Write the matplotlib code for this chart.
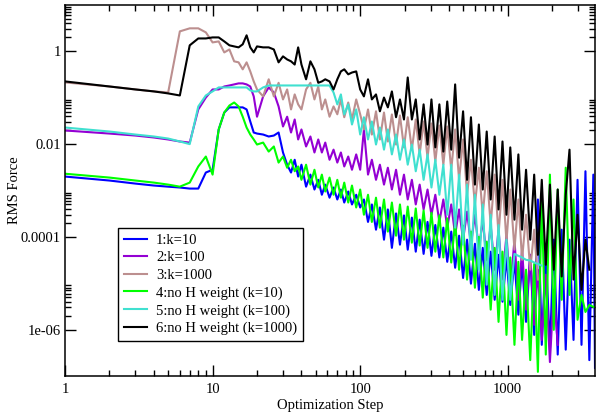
import numpy as np
import matplotlib
matplotlib.use('Agg')
import matplotlib.pyplot as plt
from matplotlib.ticker import FixedLocator, FixedFormatter, NullFormatter

nan = np.nan

steps = [1, 2, 3, 4, 5, 6, 7, 8, 9, 10, 11, 12, 13, 14, 15, 16, 17, 18, 19, 20,
         22, 24, 26, 28, 30, 32, 34, 36, 38, 40,
         43, 46, 49, 52, 55, 58, 62, 66, 70, 74, 78, 83, 88, 94, 100,
         106, 113, 120, 128, 136, 145, 154, 164, 175, 186, 198, 210, 224, 238, 253, 269, 286, 304, 323, 344,
         366, 389, 414, 440, 468, 498, 530, 563, 599, 637, 677, 720, 766, 815, 866, 921, 980,
         1040, 1110, 1180, 1250, 1330, 1420, 1510, 1600, 1700, 1810, 1930, 2050, 2180, 2320, 2470, 2620,
         2790, 2970, 3160, 3360, 3570, 3800, 3900]

k10 = [2e-3, 1.64e-3, 1.41e-3, 1.28e-3, 1.21e-3, 1.16e-3, 1.1e-3, 1.1e-3, 2.44e-3, 2.8e-3,
       0.0207, 0.048, 0.062, 0.062, 0.062, 0.062, 0.056, 0.0308, 0.0178, 0.0169,
       0.0161, 0.0146, 0.0153, 0.0178, 0.0066, 0.0036, 0.00244, 0.0046, 0.002, 0.0036,
       1.21e-3, 2.2e-3, 1.05e-3, 1.7e-3, 8.1e-4, 1.34e-3, 7e-4, 1.16e-3, 6.4e-4, 1.05e-3,
       5.5e-4, 9.5e-4, 5e-4, 8.1e-4, 4.3e-4,
       6.4e-4, 2.1e-4, 5e-4, 1.43e-4, 4.3e-4, 8.7e-5, 3.9e-4, 5.8e-5, 3.2e-4, 6.8e-5,
       2.9e-4, 5.3e-5, 2.6e-4, 4.8e-5, 2.35e-4, 4.3e-5, 2.1e-4, 3.9e-5, 1.8e-4, 3.6e-5,
       1.58e-4, 2.9e-5, 1.3e-4, 2.16e-5, 1.06e-4, 1.3e-5, 8.7e-5, 9.8e-6, 7.1e-5, 7.2e-6,
       5.8e-5, 5.6e-6, 4.8e-5, 4.4e-6, 4.1e-5, 4e-6, 3.6e-5,
       3.4e-6, 3.2e-5, 2.1e-6, 2.9e-5, 1.47e-6, 4.1e-5, 7.7e-7, 6.4e-4, 4.7e-7, 5.3e-5,
       3.7e-7, 8.7e-5, 2.9e-7, 1.43e-4, 3.7e-7, 8.7e-5, 6e-7, 1.7e-3, 4.7e-7, 2.6e-3,
       2.2e-7, 2.2e-3, 1.5e-7]

k100 = [0.0197, 0.0169, 0.0153, 0.0139, 0.0126, 0.0114, 0.0108, 0.056, 0.101, 0.151,
        0.151, 0.175, 0.184, 0.194, 0.204, 0.204, 0.194, 0.175, 0.107, 0.039,
        0.107, 0.167, 0.13, 0.065, 0.024, 0.039, 0.0178, 0.034, 0.0126, 0.0207,
        0.0089, 0.0146, 0.0066, 0.0126, 0.0066, 0.0108, 0.0046, 0.0076, 0.004, 0.0066,
        0.0033, 0.0054, 0.0028, 0.006, 0.0028,
        0.0207, 0.0022, 0.0046, 0.0017, 0.0036, 0.00134, 0.0031, 0.00105, 0.0028, 8.1e-4,
        0.0022, 6.4e-4, 0.0017, 5e-4, 0.00134, 3.9e-4, 0.00105, 3e-4, 8.1e-4, 2.1e-4,
        6.4e-4, 1.58e-4, 5e-4, 1.1e-4, 3.9e-4, 8.7e-5, 3.5e-4, 6.8e-5, 3e-4, 5.3e-5,
        2.35e-4, 3.2e-5, 1.8e-4, 1.96e-5, 1.43e-4, 1.2e-5, 1.1e-4,
        7.2e-6, 8.7e-5, 4.4e-6, 5.3e-5, 2.7e-6, 4.1e-5, 1.27e-6, 1.96e-5, 6e-7, 1.53e-5,
        2e-7, 7.2e-6, 4.7e-7, nan, nan, nan, nan, nan, nan, nan,
        nan, nan, nan]

k1000 = [0.214, 0.175, 0.151, 0.137, 0.13, 2.7, 3.14, 3.14, 2.57, 1.56,
         1.64, 0.95, 1.1, 0.61, 0.58, 0.41, 0.58, 0.37, 0.225, 0.151,
         0.107, 0.25, 0.107, 0.21, 0.092, 0.151, 0.056, 0.118, 0.072, 0.056,
         0.151, 0.21, 0.092, 0.175, 0.056, 0.092, 0.039, 0.065, 0.044, 0.092,
         0.038, 0.079, 0.034, 0.092, 0.044,
         0.0207, 0.056, 0.0161, 0.051, 0.0126, 0.048, 0.0114, 0.0436, 0.0098, 0.0415,
         0.0085, 0.038, 0.0076, 0.034, 0.006, 0.0308, 0.0051, 0.0279, 0.0042, 0.0252,
         0.0036, 0.024, 0.0028, 0.0207, 0.0017, 0.0126, 8.1e-4, 0.0046, 5e-4, 0.0031,
         3e-4, 0.0026, 1.8e-4, 0.0022, 1.1e-4, 0.0017, 7.9e-5,
         1.05e-3, 5.3e-5, 6.4e-4, 3.2e-5, 3e-4, 1.96e-5, 1.43e-4, 1.2e-5, nan, nan,
         nan, nan, nan, nan, nan, nan, nan, nan, nan, nan,
         nan, nan, nan]

noh_k10 = [2.3e-3, 1.9e-3, 1.64e-3, 1.48e-3, 1.34e-3, 1.21e-3, 1.48e-3, 3.3e-3, 5.4e-3, 2.2e-3,
           0.0207, 0.048, 0.068, 0.079, 0.065, 0.039, 0.0228, 0.0161, 0.0126, 0.0098,
           0.0108, 0.0069, 0.0089, 0.004, 0.0054, 0.0031, 0.0046, 0.0026, 0.0033, 0.0017,
           0.0036, 0.00134, 0.0028, 1.16e-3, 0.0022, 9.5e-4, 0.0019, 8.1e-4, 0.0017, 7e-4,
           1.48e-3, 5.5e-4, 1.28e-3, 4.3e-4, 1.05e-3,
           3e-4, 8.1e-4, 2.1e-4, 7e-4, 1.58e-4, 6.4e-4, 1.3e-4, 5.5e-4, 1.06e-4, 5e-4,
           8.7e-5, 4.5e-4, 7.5e-5, 4.1e-4, 6.5e-5, 3.7e-4, 5.8e-5, 3.3e-4, 4.8e-5, 2.9e-4,
           3.6e-5, 2.5e-4, 2.8e-5, 2.1e-4, 1.96e-5, 1.75e-4, 1.2e-5, 1.3e-4, 8e-6, 1e-4,
           4.9e-6, 7.9e-5, 2.7e-6, 5.8e-5, 1.47e-6, 4.8e-5, 7.7e-7,
           3.6e-5, 4.7e-7, 2.9e-5, 6e-7, 1.96e-5, 2.2e-7, 2.6e-5, 1.23e-7, 6.4e-4, 2.9e-7,
           2.2e-3, 9.9e-7, 1.05e-3, 4.4e-6, 3.1e-3, 5.6e-6, 6.4e-4, 1.63e-6, 5.6e-6, 2.4e-6,
           3.4e-6, 3.1e-6, 3.1e-6]

noh_k100 = [0.0228, 0.0187, 0.0161, 0.0146, 0.0132, 0.0114, 0.01, 0.065, 0.112, 0.137,
            0.167, 0.167, 0.167, 0.167, 0.167, 0.167, 0.167, 0.144, 0.137, 0.137,
            0.167, 0.184, 0.184, 0.184, 0.184, 0.184, 0.184, 0.184, 0.184, 0.184,
            0.184, 0.184, 0.184, 0.184, 0.184, 0.184, 0.184, 0.13, 0.072, 0.118,
            0.0436, 0.072, 0.0265, 0.056, 0.0161,
            0.038, 0.0126, 0.0308, 0.0098, 0.0228, 0.0076, 0.0207, 0.006, 0.0161, 0.0046,
            0.0126, 0.0036, 0.0098, 0.0026, 0.0076, 0.0017, 0.006, 1.16e-3, 0.0046, 8.1e-4,
            0.0036, 3e-4, 0.0036, 1.58e-4, 0.0022, 6.8e-5, 0.00134, 3.2e-5, 8.1e-4, 1.96e-5,
            5e-4, 9.3e-6, 3e-4, 5.6e-6, 1.8e-4, 4.4e-6, 8.7e-5,
            4.4e-6, 4.3e-5, 3.9e-5, 3.6e-5, 3.2e-5, 3.1e-5, 2.8e-5, 2.6e-5, 2.4e-5, nan,
            nan, nan, nan, nan, nan, nan, nan, nan, nan, nan,
            nan, nan, nan]

noh_k1000 = [0.225, 0.175, 0.151, 0.137, 0.124, 0.112, 1.35, 1.9, 1.9, 2.0,
             2.0, 1.64, 1.35, 1.28, 1.22, 1.42, 2.22, 1.22, 0.95, 1.28,
             1.22, 1.22, 1.1, 0.58, 0.78, 0.67, 0.61, 0.52, 1.22, 0.52,
             0.25, 0.61, 0.41, 0.21, 0.225, 0.25, 0.225, 0.151, 0.25, 0.37,
             0.41, 0.32, 0.35, 0.37, 0.151,
             0.107, 0.25, 0.092, 0.118, 0.051, 0.101, 0.062, 0.137, 0.038, 0.092,
             0.034, 0.274, 0.034, 0.092, 0.0126, 0.072, 0.0098, 0.092, 0.0085, 0.072,
             0.0069, 0.083, 0.0076, 0.194, 0.0051, 0.051, 0.0017, 0.038, 0.00134, 0.0265,
             0.00105, 0.0187, 0.00064, 0.0146, 0.00039, 0.0114, 0.0003,
             0.0085, 2.35e-4, 0.006, 1.43e-4, 2.8e-3, 8.7e-5, 2.2e-3, 4.1e-5, 1.7e-3, 2.5e-5,
             1.34e-3, 1.96e-5, 1.05e-3, 1.4e-5, 8.1e-4, 7.6e-3, 1.2e-5, 3e-4, 7.2e-6, 8.7e-5,
             1.96e-5, nan, nan]

labels = ['1:k=10', '2:k=100', '3:k=1000',
          '4:no H weight (k=10)', '5:no H weight (k=100)', '6:no H weight (k=1000)']
colors = ['#0000ff', '#9400d3', '#bc8f8f', '#00ff00', '#40e0d0', '#000000']

x_ticks = [1, 10, 100, 1000]
x_tick_labels = ['1', '10', '100', '1000']
y_ticks = [1e-6, 1e-4, 1e-2, 1]
y_tick_labels = ['1e-06', '0.0001', '0.01', '1']

plt.rcParams['font.family'] = ['Liberation Serif', 'DejaVu Serif']

fig = plt.figure(figsize=(6.02, 4.17), dpi=100)
ax = fig.add_axes([65 / 602, 41 / 417, 530 / 602, 371 / 417])

series = [k10, k100, k1000, noh_k10, noh_k100, noh_k1000]
for ys, lab, col in zip(series, labels, colors):
    ax.plot(steps, ys, color=col, lw=1.5, label=lab)

ax.set_xscale('log')
ax.set_yscale('log')
ax.set_xlim(1, 3900)
ax.set_ylim(1e-7, 10)

ax.xaxis.set_major_locator(FixedLocator(x_ticks))
ax.xaxis.set_major_formatter(FixedFormatter(x_tick_labels))
ax.xaxis.set_minor_locator(FixedLocator([s * 10.0 ** e for e in range(0, 4) for s in range(2, 10)]))
ax.xaxis.set_minor_formatter(NullFormatter())
ax.yaxis.set_major_locator(FixedLocator(y_ticks))
ax.yaxis.set_major_formatter(FixedFormatter(y_tick_labels))
ax.yaxis.set_minor_locator(FixedLocator([s * 10.0 ** e for e in (-6, -4, -2, 0) for s in range(2, 10)]))
ax.yaxis.set_minor_formatter(NullFormatter())

ax.tick_params(which='both', direction='in', top=True, right=True, width=1, labelsize=10.5)
ax.tick_params(which='major', length=8, pad=5)
ax.tick_params(which='minor', length=4.3)
ax.tick_params(axis='y', which='major', pad=3)
for sp in ax.spines.values():
    sp.set_linewidth(1.1)

ax.set_xlabel('Optimization Step', fontsize=10.5, labelpad=2)
ax.set_ylabel('RMS Force', fontsize=10.5, labelpad=0)

leg = ax.legend(loc='upper left', bbox_to_anchor=(0.1, 0.4), borderaxespad=0,
                fancybox=False, edgecolor='black', framealpha=1, fontsize=10.5,
                handlelength=1.6, handletextpad=0.6, labelspacing=0.3, borderpad=0.4)
leg.get_frame().set_linewidth(1.0)

fig.savefig('out.png', dpi=100)
